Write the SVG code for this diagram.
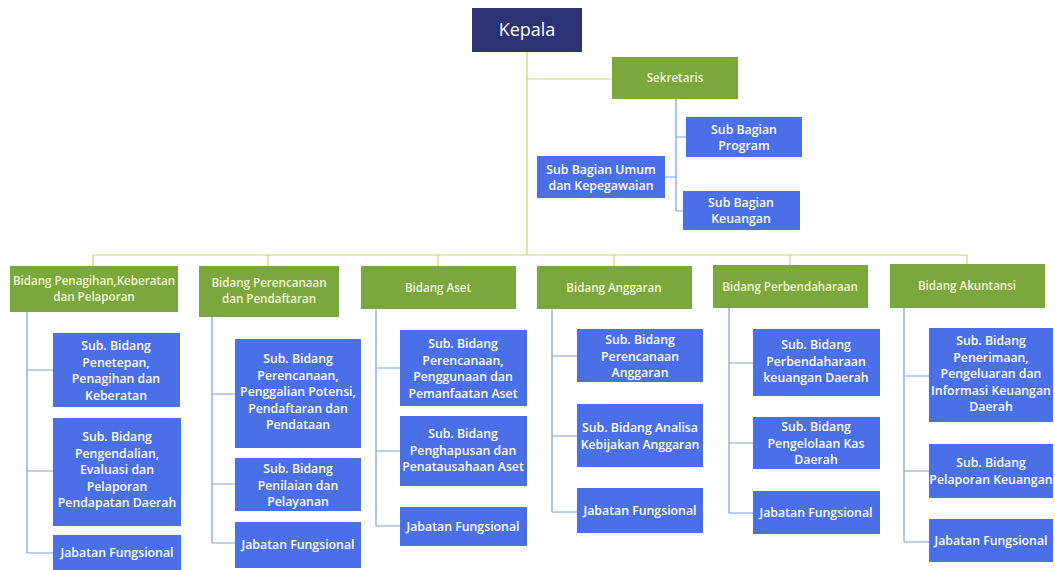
<svg xmlns="http://www.w3.org/2000/svg" width="1055" height="570" viewBox="0 0 1055 570">
<style>
text{font-family:"Open Sans","Liberation Sans",sans-serif;fill:#ffffff;text-anchor:middle;font-size:12.3px;font-weight:600}
.top{fill:#2b3374}
.green{fill:#7aa83c}
.blue{fill:#4a6fe6}
.g text{fill:#f2f7d8;font-size:11.6px}
.mainline{stroke:#c9d86a;stroke-width:1.2;fill:none}
.subline{stroke:#7a9fdc;stroke-width:1.2;fill:none}
</style>
<rect width="1055" height="570" fill="#ffffff"/>
<g id="connectors">
<path class="mainline" d="M527 52V255M527 79H612M93 255H967M93 255V266M268 255V266M438 255V266M614 255V266M790 255V265M967 255V264"/>
<path class="subline" d="M676 99V211M676 137H686M665 177H676M676 211H683"/>
<path class="subline" d="M27 312V553M27 370H53M27 471H53M27 553H53"/>
<path class="subline" d="M212 317V543M212 394H235M212 484H235M212 543H235"/>
<path class="subline" d="M376 309V526M376 368H400M376 451H400M376 526H400"/>
<path class="subline" d="M552 309V512M552 356H577M552 436H577M552 512H577"/>
<path class="subline" d="M729 308V513M729 363H753M729 443H753M729 513H753"/>
<path class="subline" d="M904 308V542M904 376H929M904 471H929M904 542H929"/>
</g>
<g id="kepala"><rect class="top" x="472" y="8" width="110" height="44"/><text x="527" y="36" style="font-size:18px;font-weight:400">Kepala</text></g>
<g id="sekretaris" class="g"><rect class="green" x="612" y="57" width="126" height="42"/><text x="675" y="82">Sekretaris</text></g>
<g id="sb-program"><rect class="blue" x="686" y="117" width="116" height="40"/><text x="744" y="134">Sub Bagian</text><text x="744" y="150">Program</text></g>
<g id="sb-umum"><rect class="blue" x="537" y="156" width="128" height="42"/><text x="601" y="174">Sub Bagian Umum</text><text x="601" y="190">dan Kepegawaian</text></g>
<g id="sb-keuangan"><rect class="blue" x="683" y="191" width="117" height="39"/><text x="741" y="207">Sub Bagian</text><text x="741" y="223">Keuangan</text></g>

<g id="bidang-penagihan" class="g"><rect class="green" x="10" y="266" width="168" height="46"/><text x="94" y="285">Bidang Penagihan,Keberatan</text><text x="94" y="301">dan Pelaporan</text></g>
<g id="bidang-perencanaan" class="g"><rect class="green" x="199" y="266" width="140" height="51"/><text x="269" y="287">Bidang Perencanaan</text><text x="269" y="303">dan Pendaftaran</text></g>
<g id="bidang-aset" class="g"><rect class="green" x="361" y="266" width="155" height="43"/><text x="438" y="292">Bidang Aset</text></g>
<g id="bidang-anggaran" class="g"><rect class="green" x="537" y="266" width="155" height="43"/><text x="614" y="292">Bidang Anggaran</text></g>
<g id="bidang-perbendaharaan" class="g"><rect class="green" x="713" y="265" width="155" height="43"/><text x="790" y="291">Bidang Perbendaharaan</text></g>
<g id="bidang-akuntansi" class="g"><rect class="green" x="890" y="264" width="155" height="44"/><text x="967" y="290">Bidang Akuntansi</text></g>

<g id="c1-a"><rect class="blue" x="53" y="333" width="127" height="74"/><text x="116" y="350">Sub. Bidang</text><text x="116" y="366.5">Penetepan,</text><text x="116" y="383">Penagihan dan</text><text x="116" y="399.5">Keberatan</text></g>
<g id="c1-b"><rect class="blue" x="53" y="418" width="128" height="108"/><text x="117" y="441">Sub. Bidang</text><text x="117" y="457.5">Pengendalian,</text><text x="117" y="474">Evaluasi dan</text><text x="117" y="490.5">Pelaporan</text><text x="117" y="507">Pendapatan Daerah</text></g>
<g id="c1-c"><rect class="blue" x="53" y="535" width="128" height="35"/><text x="117" y="557">Jabatan Fungsional</text></g>

<g id="c2-a"><rect class="blue" x="235" y="339" width="126" height="109"/><text x="298" y="363">Sub. Bidang</text><text x="298" y="379.5">Perencanaan,</text><text x="298" y="396">Penggalian Potensi,</text><text x="298" y="412.5">Pendaftaran dan</text><text x="298" y="429">Pendataan</text></g>
<g id="c2-b"><rect class="blue" x="235" y="458" width="126" height="53"/><text x="298" y="473">Sub. Bidang</text><text x="298" y="489.5">Penilaian dan</text><text x="298" y="506">Pelayanan</text></g>
<g id="c2-c"><rect class="blue" x="235" y="522" width="126" height="46"/><text x="298" y="549">Jabatan Fungsional</text></g>

<g id="c3-a"><rect class="blue" x="400" y="330" width="127" height="76"/><text x="463" y="348">Sub. Bidang</text><text x="463" y="364.5">Perencanaan,</text><text x="463" y="381">Penggunaan dan</text><text x="463" y="397.5">Pemanfaatan Aset</text></g>
<g id="c3-b"><rect class="blue" x="400" y="416" width="127" height="70"/><text x="463" y="438">Sub. Bidang</text><text x="463" y="454.5">Penghapusan dan</text><text x="463" y="471">Penatausahaan Aset</text></g>
<g id="c3-c"><rect class="blue" x="400" y="507" width="127" height="39"/><text x="463" y="531">Jabatan Fungsional</text></g>

<g id="c4-a"><rect class="blue" x="577" y="329" width="126" height="53"/><text x="640" y="344">Sub. Bidang</text><text x="640" y="360.5">Perencanaan</text><text x="640" y="377">Anggaran</text></g>
<g id="c4-b"><rect class="blue" x="577" y="404" width="126" height="63"/><text x="640" y="432">Sub. Bidang Analisa</text><text x="640" y="448.5">Kebijakan Anggaran</text></g>
<g id="c4-c"><rect class="blue" x="577" y="488" width="126" height="45"/><text x="640" y="515">Jabatan Fungsional</text></g>

<g id="c5-a"><rect class="blue" x="753" y="329" width="127" height="67"/><text x="816" y="349">Sub. Bidang</text><text x="816" y="365.5">Perbendaharaan</text><text x="816" y="382">keuangan Daerah</text></g>
<g id="c5-b"><rect class="blue" x="753" y="417" width="127" height="52"/><text x="816" y="431">Sub. Bidang</text><text x="816" y="447.5">Pengelolaan Kas</text><text x="816" y="464">Daerah</text></g>
<g id="c5-c"><rect class="blue" x="753" y="491" width="127" height="43"/><text x="816" y="517">Jabatan Fungsional</text></g>

<g id="c6-a"><rect class="blue" x="929" y="328" width="124" height="94"/><text x="991" y="345">Sub. Bidang</text><text x="991" y="361.5">Penerimaan,</text><text x="991" y="378">Pengeluaran dan</text><text x="991" y="394.5">Informasi Keuangan</text><text x="991" y="411">Daerah</text></g>
<g id="c6-b"><rect class="blue" x="929" y="444" width="124" height="54"/><text x="991" y="467">Sub. Bidang</text><text x="991" y="483.5">Pelaporan Keuangan</text></g>
<g id="c6-c"><rect class="blue" x="929" y="519" width="124" height="43"/><text x="991" y="545">Jabatan Fungsional</text></g>
</svg>
